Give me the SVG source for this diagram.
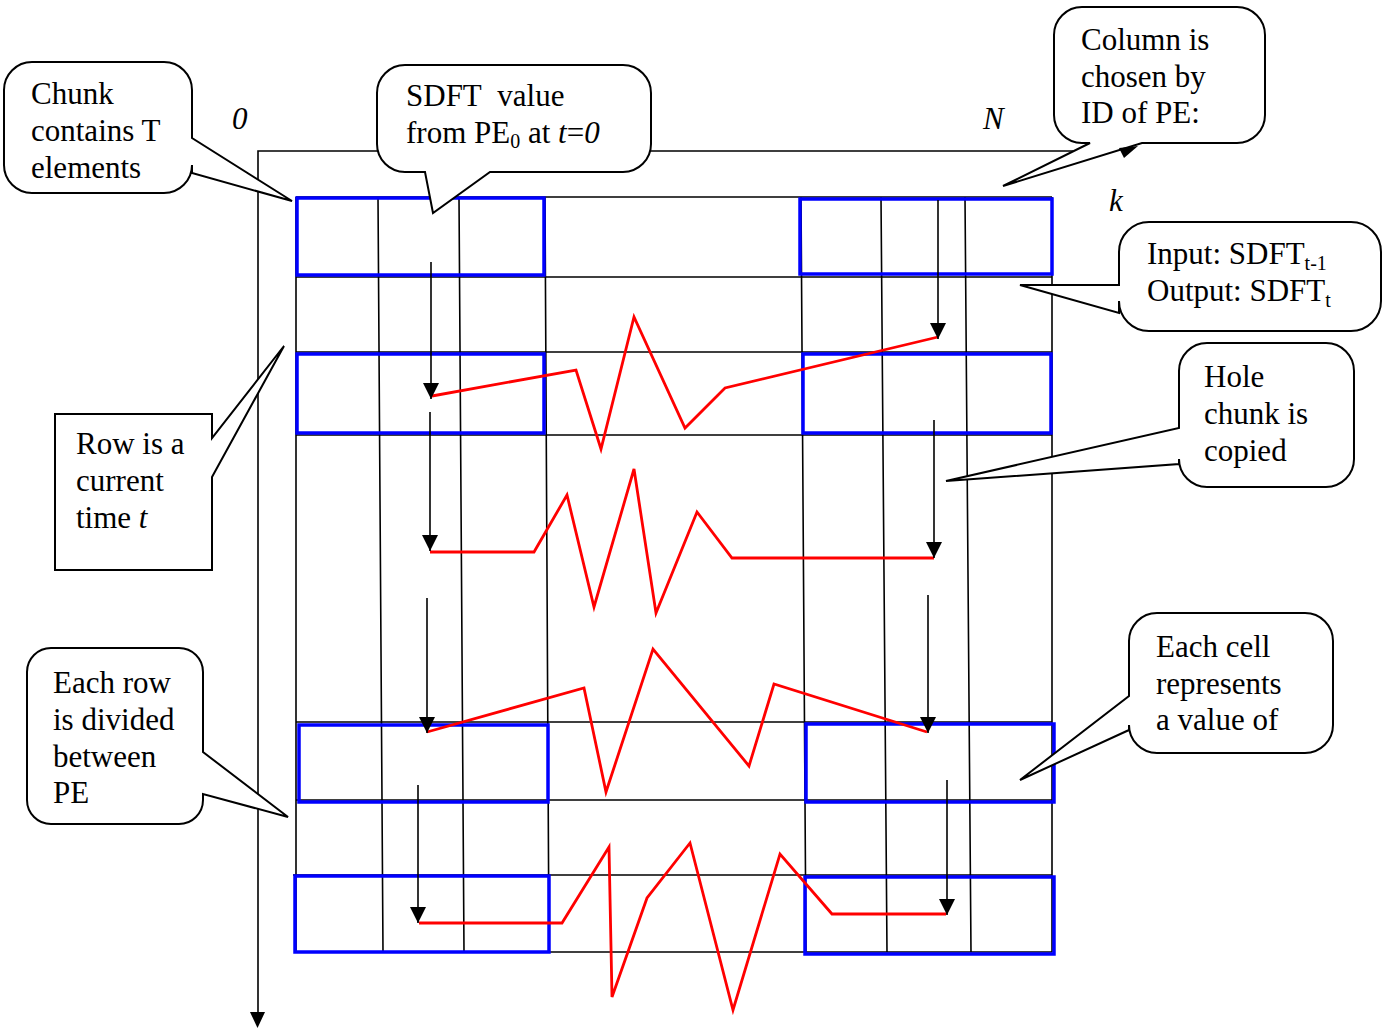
<svg xmlns="http://www.w3.org/2000/svg" width="1387" height="1029" viewBox="0 0 1387 1029">
<style>
text{font-family:"Liberation Serif","Times New Roman",serif;font-size:31px;fill:#000}
.it{font-style:italic}
.sub{font-size:20px}
.grid{stroke:#000;stroke-width:1.6;fill:none}
.blue{stroke:#0000ff;stroke-width:3.5;fill:none}
.red{stroke:#ff0000;stroke-width:2.8;fill:none;stroke-linejoin:miter}
.arr{stroke:#000;stroke-width:1.6;fill:none;marker-end:url(#ah)}
.call{stroke:#000;stroke-width:2;fill:#fff;stroke-linejoin:miter}
</style>
<defs>
<marker id="ah" markerUnits="userSpaceOnUse" markerWidth="18" markerHeight="18" viewBox="0 0 18 18" refX="16" refY="9" orient="auto">
<path d="M0,1 L16,9 L0,17 Z" fill="#000"/>
</marker>
</defs>
<rect width="1387" height="1029" fill="#fff"/>

<g id="axes">
<path class="grid" d="M1073,151 H258 V1014"/>
<path d="M250,1012 L265,1012 L257.5,1028 Z" fill="#000"/>
<text class="it" x="232" y="129">0</text>
<text class="it" x="983" y="129">N</text>
<text class="it" x="1109" y="211">k</text>
</g>

<g id="grid">
<path class="grid" d="M296,197 H1052 M296,277 H1052 M296,352 H1052 M296,435 H1052 M296,722 H1052 M296,800 H1052 M293,875 H1052 M296,952 H1052"/>
<path class="grid" d="M296,197 V952 M1052,197 V952 M378,197 L383,952 M459,197 L464,952 M545,197 L549,952 M801,197 L806,952 M881,197 L887,952 M965,197 L971,952"/>
</g>

<g id="chunks">
<rect class="blue" x="297" y="198" width="247" height="77"/>
<rect class="blue" x="800" y="199" width="252" height="75"/>
<rect class="blue" x="297" y="354" width="247" height="79"/>
<rect class="blue" x="803" y="354" width="248" height="79"/>
<rect class="blue" x="299" y="725" width="249" height="77"/>
<rect class="blue" x="806" y="724" width="248" height="78"/>
<rect class="blue" x="295" y="876" width="254" height="76"/>
<rect class="blue" x="805" y="877" width="249" height="77"/>
</g>

<g id="connectors">
<polyline class="red" points="432,396 576,370 601,449 634,317 685,428 725,388 938,337"/>
<polyline class="red" points="430,552 534,552 567,495 594,607 634,469 656,613 697,512 732,558 934,558"/>
<polyline class="red" points="427,732 584,688 606,792 653,649 749,766 774,684 927,732"/>
<polyline class="red" points="419,923 562,923 609,847 612,997 647,898 690,843 733,1010 780,854 832,914 946,914"/>
<line class="arr" x1="431" y1="262" x2="431" y2="399"/>
<line class="arr" x1="938" y1="200" x2="938" y2="339"/>
<line class="arr" x1="430" y1="412" x2="430" y2="551"/>
<line class="arr" x1="934" y1="420" x2="934" y2="558"/>
<line class="arr" x1="427" y1="598" x2="427" y2="733"/>
<line class="arr" x1="928" y1="595" x2="928" y2="733"/>
<line class="arr" x1="418" y1="785" x2="418" y2="923"/>
<line class="arr" x1="947" y1="780" x2="947" y2="915"/>
</g>

<g id="callout-chunk">
<path class="call" d="M32,62 H164 A28,28 0 0 1 192,90 V138 L292,201 L192,173 V165 A28,28 0 0 1 164,193 H32 A28,28 0 0 1 4,165 V90 A28,28 0 0 1 32,62 Z"/>
<text x="31" y="104">Chunk</text>
<text x="31" y="141">contains T</text>
<text x="31" y="178">elements</text>
</g>

<g id="callout-sdft">
<path class="call" d="M405,65 H623 A28,28 0 0 1 651,93 V144 A28,28 0 0 1 623,172 H490 L433,213 L425,172 H405 A28,28 0 0 1 377,144 V93 A28,28 0 0 1 405,65 Z"/>
<text x="406" y="106">SDFT&#160; value</text>
<text x="406" y="143">from PE<tspan class="sub" dy="5">0</tspan><tspan dy="-5"> at </tspan><tspan class="it">t</tspan>=<tspan class="it">0</tspan></text>
</g>

<g id="callout-column">
<path class="call" d="M1082,7 H1237 A28,28 0 0 1 1265,35 V115 A28,28 0 0 1 1237,143 H1142 L1003,186 L1090,143 H1082 A28,28 0 0 1 1054,115 V35 A28,28 0 0 1 1082,7 Z"/>
<path d="M1138,146 L1119,148 L1124,158 Z" fill="#000"/>
<text x="1081" y="50">Column is</text>
<text x="1081" y="87">chosen by</text>
<text x="1081" y="123">ID of PE:</text>
</g>

<g id="callout-io">
<path class="call" d="M1149,222 H1351 A30,30 0 0 1 1381,252 V301 A30,30 0 0 1 1351,331 H1149 A30,30 0 0 1 1119,301 V313 L1020,285 H1119 V252 A30,30 0 0 1 1149,222 Z"/>
<text x="1147" y="264">Input: SDFT<tspan class="sub" dy="6">t-1</tspan></text>
<text x="1147" y="301">Output: SDFT<tspan class="sub" dy="6">t</tspan></text>
</g>

<g id="callout-hole">
<path class="call" d="M1207,343 H1326 A28,28 0 0 1 1354,371 V459 A28,28 0 0 1 1326,487 H1207 A28,28 0 0 1 1179,459 V464 L946,481 L1179,428 V371 A28,28 0 0 1 1207,343 Z"/>
<text x="1204" y="387">Hole</text>
<text x="1204" y="424">chunk is</text>
<text x="1204" y="461">copied</text>
</g>

<g id="callout-cell">
<path class="call" d="M1157,613 H1305 A28,28 0 0 1 1333,641 V725 A28,28 0 0 1 1305,753 H1157 A28,28 0 0 1 1129,725 V730 L1020,780 L1129,696 V641 A28,28 0 0 1 1157,613 Z"/>
<text x="1156" y="657">Each cell</text>
<text x="1156" y="694">represents</text>
<text x="1156" y="730">a value of</text>
</g>

<g id="callout-row">
<path class="call" d="M55,414 H212 V438 L284,346 L212,477 V570 H55 Z"/>
<text x="76" y="454">Row is a</text>
<text x="76" y="491">current</text>
<text x="76" y="528">time <tspan class="it">t</tspan></text>
</g>

<g id="callout-divided">
<path class="call" d="M51,648 H179 A24,24 0 0 1 203,672 V752 L288,817 L203,794 V800 A24,24 0 0 1 179,824 H51 A24,24 0 0 1 27,800 V672 A24,24 0 0 1 51,648 Z"/>
<text x="53" y="693">Each row</text>
<text x="53" y="730">is divided</text>
<text x="53" y="767">between</text>
<text x="53" y="803">PE</text>
</g>
</svg>
